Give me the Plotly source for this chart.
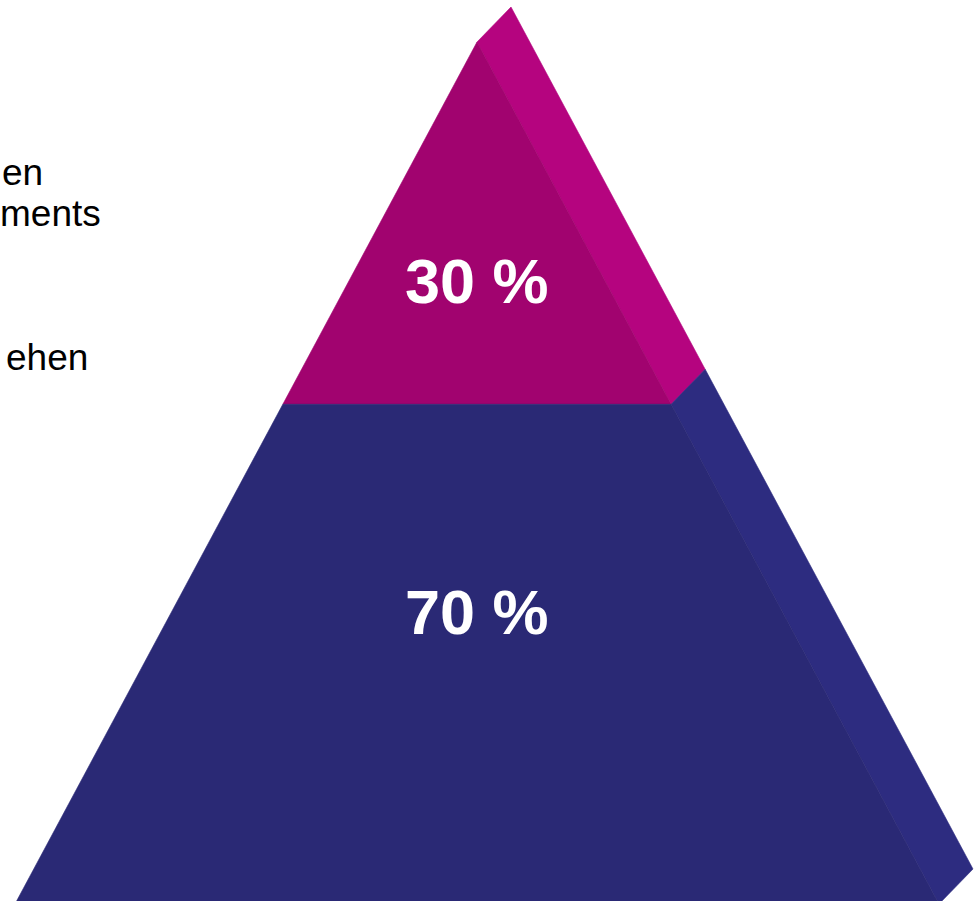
import numpy as np
import plotly.graph_objects as go

# ---------------- data ----------------
segments = ["oben", "unten"]           # top -> bottom
values = [30, 70]                      # percent shares
value_labels = ["30 %", "70 %"]
legend_lines = ["en", "ments", "ehen"]  # visible (clipped) legend text

# ---------------- styles ----------------
front_colors = ["#A1036F", "#2A2975"]
side_colors = ["#B5047F", "#2D2C80"]
W, H = 975, 901
apex_x, apex_y = 477, 42
base_y = 904
half_base = 462
depth_dx, depth_dy = 34, -35
persp = 0.72          # vertical compression of the pyramid scale
label_pos = [0.66, 0.416]

# cumulative share from apex -> vertical position
shares = np.cumsum([0] + values) / float(sum(values))
ys = apex_y + (base_y - apex_y) * shares ** persp


def hw(y):
    return half_base * (y - apex_y) / (base_y - apex_y)


fig = go.Figure()
for i, seg in enumerate(segments):
    yt, yb = ys[i], ys[i + 1]
    # side face
    sx = [apex_x + hw(yt), apex_x + hw(yt) + depth_dx, apex_x + hw(yb) + depth_dx, apex_x + hw(yb), apex_x + hw(yt)]
    sy = [yt, yt + depth_dy, yb + depth_dy, yb, yt]
    fig.add_trace(go.Scatter(x=sx, y=sy, fill="toself", mode="lines",
                             line=dict(width=0.6, color=side_colors[i]),
                             fillcolor=side_colors[i], hoverinfo="skip", showlegend=False))
    # front face
    fx = [apex_x - hw(yt), apex_x + hw(yt), apex_x + hw(yb), apex_x - hw(yb), apex_x - hw(yt)]
    fy = [yt, yt, yb, yb, yt]
    fig.add_trace(go.Scatter(x=fx, y=fy, fill="toself", mode="lines",
                             line=dict(width=0.6, color=front_colors[i]),
                             fillcolor=front_colors[i], hoverinfo="skip", showlegend=False,
                             name=seg))
    # value label
    fig.add_annotation(x=apex_x, y=yt + (yb - yt) * label_pos[i], xref="x", yref="y",
                       text="<b>" + value_labels[i] + "</b>", showarrow=False,
                       font=dict(family="Liberation Sans, Arial", size=63, color="white"),
                       xanchor="center", yanchor="middle")

# clipped legend text at the left edge
legend_x = [45, 103, 90]
legend_y = [172, 213, 357]
for t, lx, ly in zip(legend_lines, legend_x, legend_y):
    fig.add_annotation(x=lx, y=ly, xref="x", yref="y", text=t, showarrow=False,
                       font=dict(family="Liberation Sans, Arial", size=37, color="black"),
                       xanchor="right", yanchor="middle")

fig.update_layout(
    width=W, height=H, margin=dict(l=0, r=0, t=0, b=0),
    paper_bgcolor="white", plot_bgcolor="white",
    xaxis=dict(range=[0, W], visible=False, fixedrange=True),
    yaxis=dict(range=[H, 0], visible=False, fixedrange=True),
)
fig.write_html(
    "out.html",
    post_script="document.body.style.margin='0';document.body.style.overflow='hidden';",
    config={"displayModeBar": False},
)
